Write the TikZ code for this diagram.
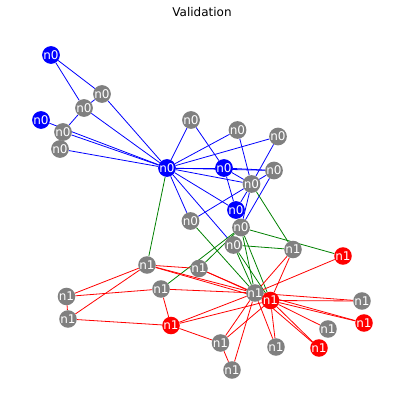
\documentclass[tikz,border=0pt]{standalone}
\usepackage{fontspec}
\setmainfont{DejaVu Sans}
\usetikzlibrary{backgrounds}
\definecolor{ngray}{RGB}{128,128,128}
\definecolor{nblue}{RGB}{0,0,255}
\definecolor{nred}{RGB}{255,0,0}
\definecolor{egreen}{RGB}{0,128,0}
\begin{document}
\begin{tikzpicture}[x=1pt,y=-1pt,
  nd/.style={circle,minimum size=17.4pt,inner sep=0pt,text=white,font=\fontsize{12}{12}\selectfont},
  gn/.style={nd,fill=ngray},
  bn/.style={nd,fill=nblue},
  rn/.style={nd,fill=nred},
  be/.style={draw=nblue,line width=0.8pt},
  ge/.style={draw=egreen,line width=0.8pt},
  re/.style={draw=nred,line width=0.8pt}]
\useasboundingbox (0,0) rectangle (404,410);
\node[font=\fontsize{12}{12}\selectfont] (title) at (202,12) {Validation};
% n0 nodes
\node[bn] (a) at (51,55) {n0};
\node[gn] (c) at (84,108) {n0};
\node[gn] (b) at (102,94) {n0};
\node[bn] (d) at (41,120) {n0};
\node[gn] (e) at (63,132) {n0};
\node[gn] (f) at (60,149) {n0};
\node[bn] (h) at (167,168) {n0};
\node[gn] (g1) at (191,120) {n0};
\node[gn] (g2) at (237.5,130) {n0};
\node[gn] (g3) at (278,136.5) {n0};
\node[bn] (i) at (224,168) {n0};
\node[gn] (j) at (274,170.5) {n0};
\node[gn] (k) at (251.5,184) {n0};
\node[bn] (l) at (236,210) {n0};
\node[gn] (m) at (190.5,221) {n0};
\node[gn] (nn) at (241,227.5) {n0};
\node[gn] (o) at (233.5,245) {n0};
% n1 nodes
\node[gn] (p) at (147,265) {n1};
\node[gn] (q) at (199,268.5) {n1};
\node[gn] (r) at (161,289) {n1};
\node[gn] (s) at (66.5,296.5) {n1};
\node[gn] (t) at (68,319) {n1};
\node[rn] (u) at (171,325.5) {n1};
\node[gn] (v) at (255,293) {n1};
\node[rn] (w) at (270.5,300.5) {n1};
\node[gn] (x) at (293,249.5) {n1};
\node[rn] (y) at (343,256) {n1};
\node[gn] (z) at (362,301) {n1};
\node[rn] (aa) at (364,323) {n1};
\node[gn] (ab) at (328,329) {n1};
\node[rn] (ac) at (319,348) {n1};
\node[gn] (ad) at (276,347) {n1};
\node[gn] (ae) at (220.5,343) {n1};
\node[gn] (af) at (232,370) {n1};
\begin{pgfonlayer}{background}
% blue edges
\foreach \s/\t in {a/b,a/c,b/c,b/h,c/h,c/e,d/h,e/h,f/h,h/g1,h/g2,h/g3,h/i,h/j,h/k,h/l,h/m,h/o,g1/i,g2/k,g3/k,i/j,i/k,i/l,j/k,j/nn,k/l,k/nn,m/k}
  \path[be] (\s) -- (\t);
% green edges
\foreach \s/\t in {h/p,k/x,o/x,nn/y,nn/q,nn/r,m/v,nn/v,nn/w,o/v,o/w}
  \path[ge] (\s) -- (\t);
% red edges
\foreach \s/\t in {p/q,p/s,p/t,s/t,s/r,r/u,t/u,p/v,p/w,q/v,q/w,r/v,u/v,u/w,u/ae,ae/af,v/ae,w/ae,v/af,v/ad,w/ad,v/x,w/x,v/y,v/z,w/z,v/aa,w/aa,w/ab,v/ac,w/ac}
  \path[re] (\s) -- (\t);
\end{pgfonlayer}
\end{tikzpicture}
\end{document}
